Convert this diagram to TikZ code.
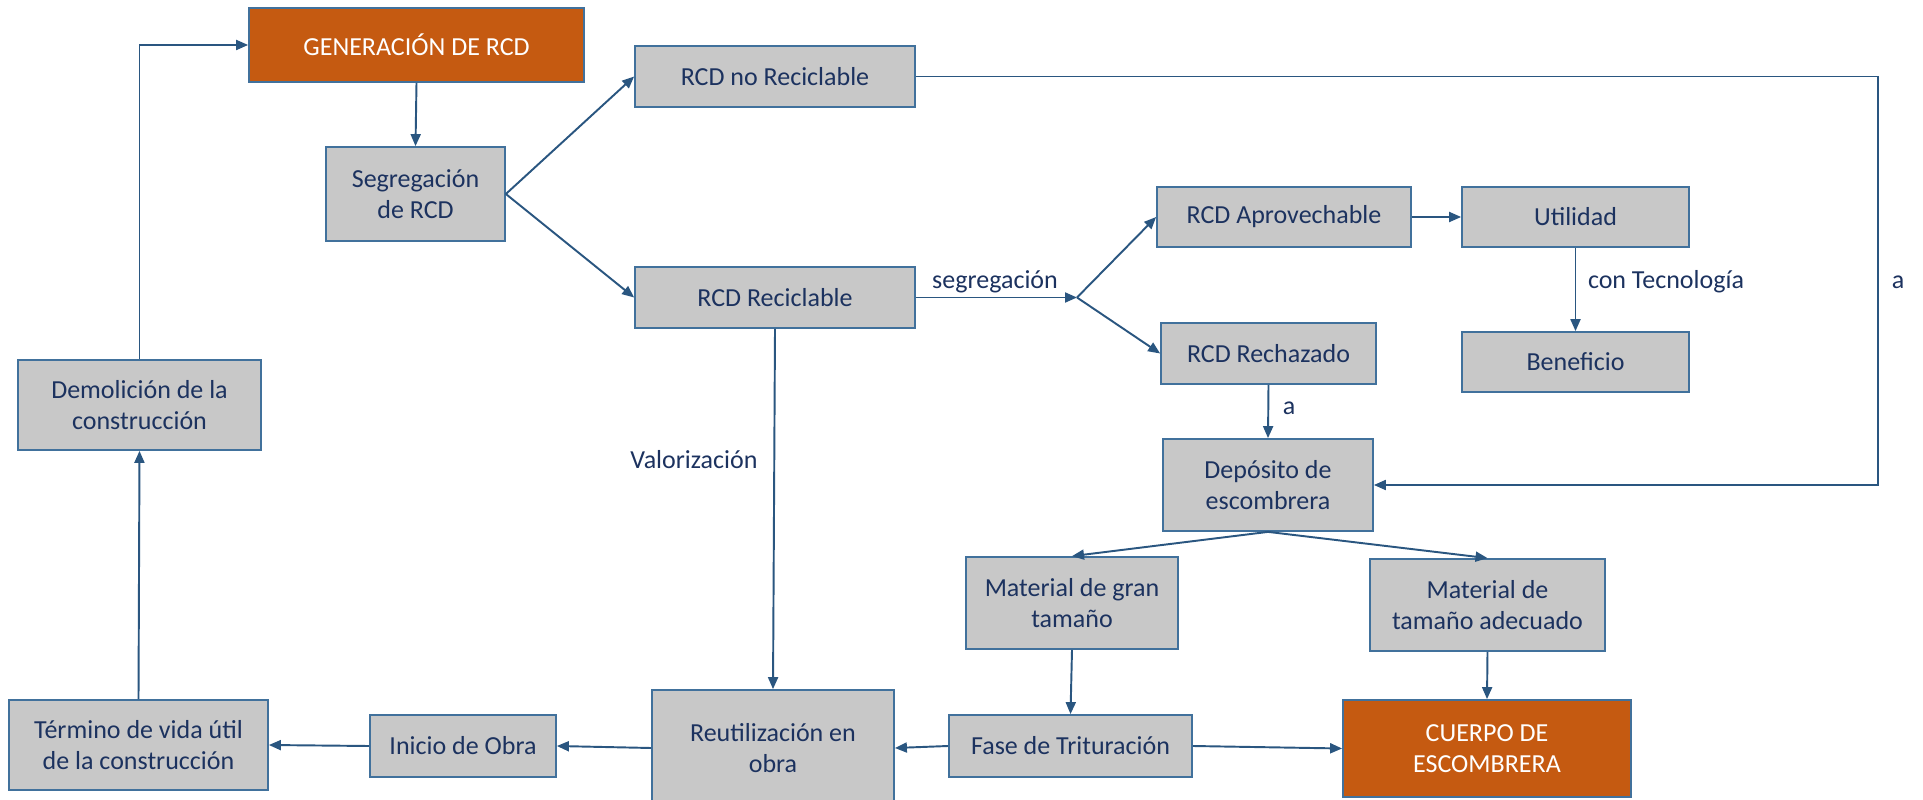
\documentclass[tikz,border=0pt]{standalone}
\usepackage{fontspec}
\setmainfont{Carlito}
\usepackage{tikz}
\usetikzlibrary{arrows.meta,positioning,calc}
\definecolor{boxgray}{RGB}{200,200,200}
\definecolor{boxline}{RGB}{65,113,156}
\definecolor{txtnavy}{RGB}{28,50,95}
\definecolor{arrc}{RGB}{42,86,128}
\definecolor{rcdorange}{RGB}{197,90,17}

\begin{document}
\begin{tikzpicture}[x=0.02cm,y=-0.02cm,>={Triangle[length=0.24cm,width=0.2cm]},
    bx/.style={draw=boxline,fill=boxgray,line width=1pt,text=txtnavy,align=center,inner sep=0pt,font=\fontsize{14.8}{17.6}\selectfont},
    sz/.style 2 args={minimum width=#1*0.02cm,minimum height=#2*0.02cm},
    hot/.style={bx,fill=rcdorange,text=white},
    arr/.style={->,arrc,line width=1.1pt},
    lbl/.style={text=txtnavy,font=\fontsize{14.8}{17.6}\selectfont}]
  \useasboundingbox (0,0) rectangle (1923,800);
  % top row
  \node[hot,sz={335}{74}] (gen) at (416.5,45) {GENERACIÓN DE RCD};
  \node[bx,sz={179}{94}] (seg) at (415.5,194) {Segregación\\de RCD};
  \node[bx,sz={280}{61}] (norec) at (775,76.5) {RCD no Reciclable};
  \node[bx,sz={280}{61}] (rec) at (775,297.5) {RCD Reciclable};
  % recyclable branch
  \node[bx,sz={254}{60}] (aprov) at (1284,217) {RCD Aprovechable};
  \node[bx,sz={227}{60}] (util) at (1575.5,217) {Utilidad};
  \node[bx,sz={227}{60}] (benef) at (1575.5,362) {Beneficio};
  \node[bx,sz={215}{61}] (rech) at (1268.5,353.5) {RCD Rechazado};
  % escombrera
  \node[bx,sz={210}{92}] (depo) at (1268,485) {Depósito de\\escombrera};
  \node[bx,sz={212}{92}] (gran) at (1072,603) {Material de gran\\tamaño};
  \node[bx,sz={235}{92}] (adec) at (1487.5,605) {Material de\\tamaño adecuado};
  \node[bx,sz={243}{62}] (fase) at (1070.5,746) {Fase de Trituración};
  \node[hot,sz={288}{97}] (cuerpo) at (1487,748.5) {CUERPO DE\\ESCOMBRERA};
  % bottom row
  \node[bx,sz={242}{116}] (reut) at (773,748) {Reutilización en\\obra};
  \node[bx,sz={186}{62}] (ini) at (463,746) {Inicio de Obra};
  \node[bx,sz={259}{90}] (term) at (138.5,745) {Término de vida útil\\de la construcción};
  \node[bx,sz={243}{90}] (demol) at (139.5,405) {Demolición de la\\construcción};
  % helper points
  \coordinate (split) at (1077,297.5);
  \coordinate (rt) at (1878,76.5);
  % connectors
  \draw[arr] (demol.north) |- (gen.west);
  \draw[arr] (gen.south) -- (seg.north);
  \draw[arr] (seg.east) -- (norec.west);
  \draw[arr] (seg.east) -- (rec.west);
  \draw[arr] (norec.east) -- (rt) |- (depo.east);
  \draw[arr] (rec.east) -- (split);
  \draw[arr] (split) -- (aprov.west);
  \draw[arr] (split) -- (rech.west);
  \draw[arr] (aprov.east) -- (util.west);
  \draw[arr] (util.south) -- (benef.north);
  \draw[arr] (rech.south) -- (depo.north);
  \draw[arr] (depo.south) -- (gran.north);
  \draw[arr] (depo.south) -- (adec.north);
  \draw[arr] (gran.south) -- (fase.north);
  \draw[arr] (adec.south) -- (cuerpo.north);
  \draw[arr] (fase.east) -- (cuerpo.west);
  \draw[arr] (fase.west) -- (reut.east);
  \draw[arr] (reut.west) -- (ini.east);
  \draw[arr] (ini.west) -- (term.east);
  \draw[arr] (term.north) -- (demol.south);
  \draw[arr] (rec.south) -- (reut.north);
  % labels
  \node[lbl] (lseg) at (995,282) {segregación};
  \node[lbl] (ltec) at (1666,282) {con Tecnología};
  \node[lbl] (la1) at (1898,282) {a};
  \node[lbl] (la2) at (1289,408) {a};
  \node[lbl] (lval) at (694,460) {Valorización};
\end{tikzpicture}
\end{document}
